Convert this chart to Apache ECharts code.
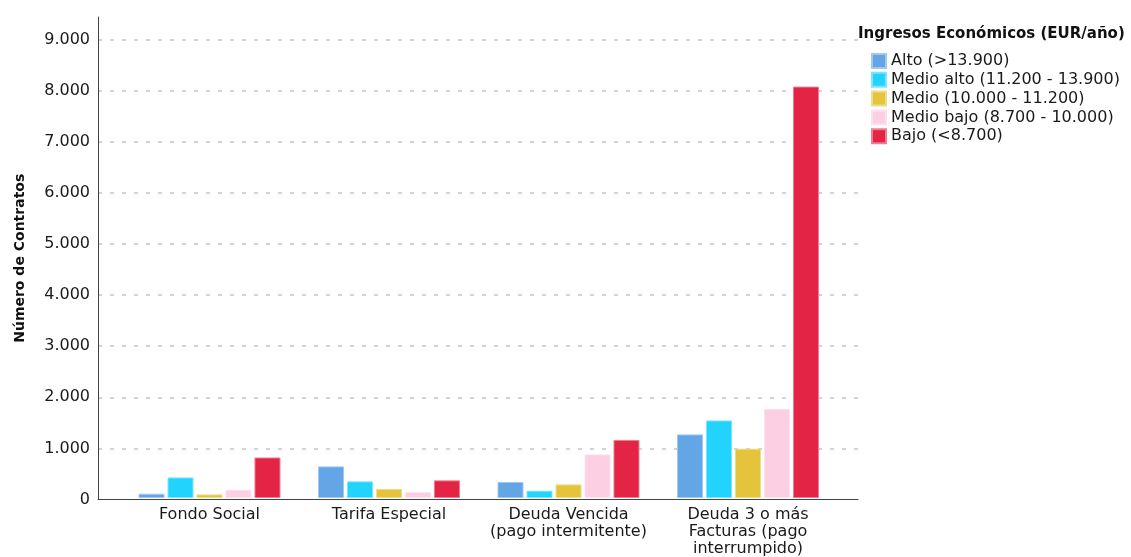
<!DOCTYPE html>
<html>
<head>
<meta charset="utf-8">
<title>Número de Contratos</title>
<script src="https://cdn.jsdelivr.net/npm/echarts@6/dist/echarts.min.js"></script>
<style>
html, body { margin: 0; padding: 0; background: #fff; }
#chart { width: 1131px; height: 557px; }
</style>
</head>
<body>
<div id="chart"></div>
<script>
// datos
var categories = ['Fondo Social', 'Tarifa Especial', 'Deuda Vencida\n(pago intermitente)', 'Deuda 3 o más\nFacturas (pago\ninterrumpido)'];
var seriesNames = ['Alto (>13.900)', 'Medio alto (11.200 - 13.900)', 'Medio (10.000 - 11.200)', 'Medio bajo (8.700 - 10.000)', 'Bajo (<8.700)'];
var alto = [84, 620, 314, 1248];
var medioAlto = [403, 326, 143, 1522];
var medio = [70, 177, 267, 968];
var medioBajo = [162, 118, 856, 1750];
var bajo = [795, 346, 1139, 8074];
var colors = ['#63a5e5', '#22d3fd', '#e3c43a', '#fccfe3', '#e32444'];
var borderColors = ['#a1c9ef', '#7ae5fe', '#eedc89', '#fde2ee', '#ee7c8f'];

var font = 'DejaVu Sans';

function fmtThousands(v) {
    return String(v).replace(/\B(?=(\d{3})+(?!\d))/g, '.');
}

var chart = echarts.init(document.getElementById('chart'));

var values = [alto, medioAlto, medio, medioBajo, bajo];
var series = values.map(function (d, i) {
    return {
        type: 'bar',
        name: seriesNames[i],
        xAxisIndex: 1,
        yAxisIndex: 1,
        barWidth: 26,
        barGap: '11.5%',
        itemStyle: {
            color: colors[i],
            borderColor: borderColors[i],
            borderWidth: 1
        },
        data: d
    };
});

chart.setOption({
    animation: false,
    textStyle: { fontFamily: font },
    title: {
        text: 'Ingresos Económicos (EUR/año)',
        left: 858,
        top: 27,
        padding: 0,
        textStyle: { fontFamily: font, fontSize: 15, fontWeight: 'bold', color: '#111' }
    },
    legend: {
        data: seriesNames,
        orient: 'vertical',
        left: 871,
        top: 53,
        padding: 0,
        icon: 'rect',
        itemWidth: 14,
        itemHeight: 14,
        itemGap: 2.8,
        textStyle: { fontFamily: font, fontSize: 16, lineHeight: 16, color: '#1a1a1a' }
    },
    grid: [
        // marco: ejes y líneas de referencia
        { left: 98, right: 273, top: 17, bottom: 57.5 },
        // barras
        { left: 119.75, right: 293.25, top: 17, bottom: 57.5 }
    ],
    xAxis: [
        {
            gridIndex: 0,
            type: 'category',
            data: [''],
            axisLine: { lineStyle: { color: '#444', width: 1 } },
            axisTick: { show: false },
            axisLabel: { show: false },
            splitLine: { show: false }
        },
        {
            gridIndex: 1,
            type: 'category',
            data: categories,
            axisLine: { show: false },
            axisTick: { show: false },
            axisLabel: {
                interval: 0,
                margin: 8,
                fontFamily: font,
                fontSize: 16,
                lineHeight: 17,
                color: '#1a1a1a'
            }
        }
    ],
    yAxis: [
        {
            gridIndex: 0,
            type: 'value',
            min: 0,
            max: 9440,
            interval: 1000,
            name: 'Número de Contratos',
            nameLocation: 'middle',
            nameGap: 71,
            nameTextStyle: { fontFamily: font, fontSize: 14, fontWeight: 'bold', color: '#111' },
            axisLine: { show: true, lineStyle: { color: '#444', width: 1 } },
            axisTick: { show: false },
            axisLabel: {
                margin: 8,
                fontFamily: font,
                fontSize: 16,
                color: '#1a1a1a',
                showMaxLabel: false,
                formatter: fmtThousands
            },
            splitLine: {
                show: true,
                showMinLine: false,
                showMaxLine: false,
                lineStyle: { type: [4, 8], color: '#c4c4c4', width: 1.5 }
            }
        },
        {
            gridIndex: 1,
            type: 'value',
            min: 0,
            max: 9440,
            show: false
        }
    ],
    series: series
});
</script>
</body>
</html>
